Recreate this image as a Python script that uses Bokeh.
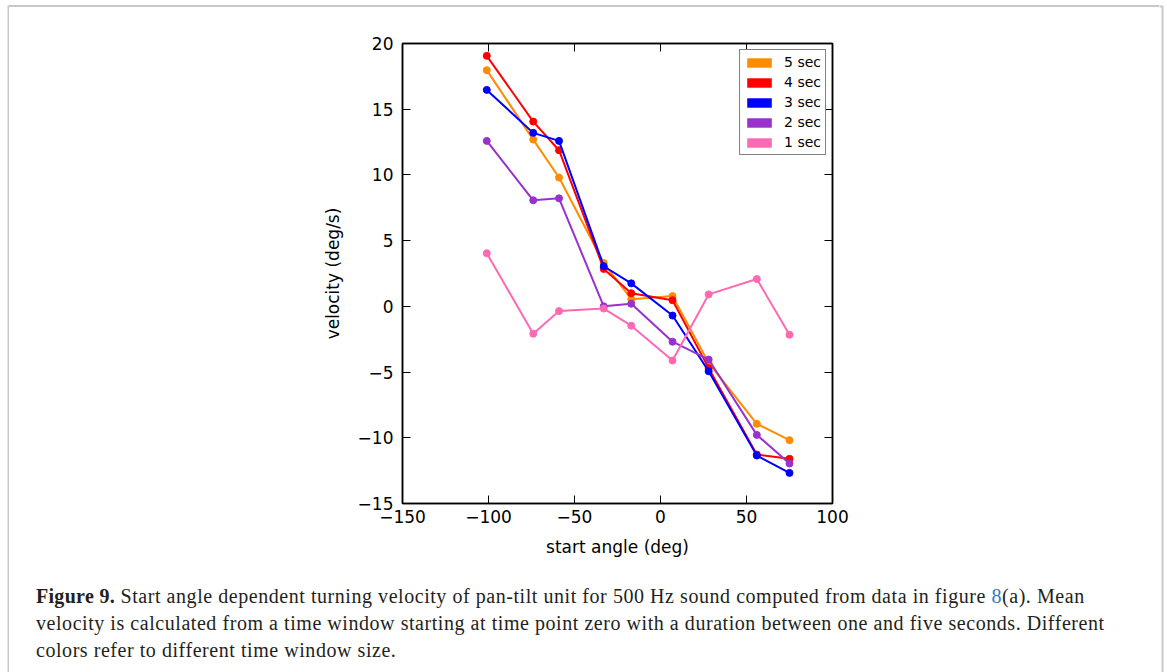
from bokeh.plotting import figure
from bokeh.models import Range1d, FixedTicker, LinearAxis, Legend, LegendItem, Div
from bokeh.layouts import column, row
from bokeh.embed import file_html
from bokeh.resources import INLINE

# ---------------- data ----------------
angles = [-101, -74, -59, -33, -17, 7, 28, 56, 75]
vel_5s = [17.97, 12.69, 9.8, 3.3, 0.55, 0.78, -4.3, -8.94, -10.18]
vel_4s = [19.06, 14.06, 11.88, 2.85, 1.0, 0.47, -4.7, -11.27, -11.6]
vel_3s = [16.47, 13.2, 12.59, 3.05, 1.75, -0.7, -4.94, -11.35, -12.67]
vel_2s = [12.59, 8.07, 8.22, 0.0, 0.2, -2.69, -4.05, -9.78, -11.96]
vel_1s = [4.04, -2.08, -0.36, -0.17, -1.47, -4.12, 0.91, 2.08, -2.16]

series_names = ["5 sec", "4 sec", "3 sec", "2 sec", "1 sec"]
series_vals = [vel_5s, vel_4s, vel_3s, vel_2s, vel_1s]
series_colors = ["#FF8C00", "#FF0000", "#0000FF", "#9932CC", "#FF69B4"]

x_ticks = [-150, -100, -50, 0, 50, 100]
y_ticks = [-15, -10, -5, 0, 5, 10, 15, 20]

caption_title = "Figure 9."
caption_line1 = "Start angle dependent turning velocity of pan-tilt unit for 500 Hz sound computed from data in figure"
caption_ref = "8"
caption_line1_end = "(a). Mean"
caption_line2 = ("velocity is calculated from a time window starting at time point zero with a duration "
                 "between one and five seconds. Different")
caption_line3 = "colors refer to different time window size."

# ---------------- page geometry (px) ----------------
W, H = 1167, 672
BORDER_L, BORDER_R, BORDER_T = 8, 1162, 6
STRIP_L, STRIP_R, STRIP_T = 9, 8, 7
MID_W = W - STRIP_L - STRIP_R                 # 1150
CAP_H = 102
PLOT_H = H - STRIP_T - CAP_H                  # 563
FL, FR, FT, FB = 402, 832, 43, 503            # frame edges on the page
XMIN, XMAX, YMIN, YMAX = -150, 100, -15, 20
BORDER_COLOR = "#c8c8c8"

def blank(w, h, xr, yr):
    f = figure(width=w, height=h, x_range=xr, y_range=yr, output_backend="svg",
               toolbar_location=None, x_axis_type=None, y_axis_type=None,
               min_border=0)
    f.min_border_left = f.min_border_right = f.min_border_top = f.min_border_bottom = 0
    f.grid.visible = False
    f.outline_line_color = None
    f.background_fill_color = "white"
    f.border_fill_color = "white"
    return f

# ---------------- main chart ----------------
p = figure(width=MID_W, height=PLOT_H, x_range=Range1d(XMIN, XMAX), y_range=Range1d(YMIN, YMAX),
           output_backend="svg", toolbar_location=None,
           min_border_left=FL - STRIP_L, min_border_right=(STRIP_L + MID_W) - FR,
           min_border_top=FT - STRIP_T, min_border_bottom=(STRIP_T + PLOT_H) - FB)
p.grid.visible = False
p.outline_line_color = "black"
p.outline_line_width = 1.5
p.background_fill_color = "white"
p.border_fill_color = "white"

TICK_FONT = "DejaVu Sans"
minus = "\u2212"

def fmt(v):
    return (minus + str(abs(v))) if v < 0 else str(v)

for ax, ticks in ((p.xaxis[0], x_ticks), (p.yaxis[0], y_ticks)):
    ax.ticker = FixedTicker(ticks=ticks)
    ax.major_label_overrides = {t: fmt(t) for t in ticks}
    ax.major_tick_in = 8
    ax.major_tick_out = 0
    ax.minor_tick_line_color = None
    ax.axis_line_color = "black"
    ax.axis_line_width = 1.5
    ax.major_tick_line_color = "black"
    ax.major_label_text_font = TICK_FONT
    ax.major_label_text_font_size = "17px"
    ax.major_label_text_color = "black"
    ax.axis_label_text_font = TICK_FONT
    ax.axis_label_text_font_size = "17px"
    ax.axis_label_text_font_style = "normal"
    ax.axis_label_text_color = "black"

p.xaxis[0].axis_label = "start angle (deg)"
p.yaxis[0].axis_label = "velocity (deg/s)"
p.xaxis[0].major_label_standoff = 6
p.yaxis[0].major_label_standoff = 9
p.xaxis[0].axis_label_standoff = 11
p.yaxis[0].axis_label_standoff = 12

for loc, ticks in (("above", x_ticks), ("right", y_ticks)):
    ax = LinearAxis(ticker=FixedTicker(ticks=ticks))
    ax.major_tick_in = 8
    ax.major_tick_out = 0
    ax.minor_tick_line_color = None
    ax.axis_line_color = "black"
    ax.axis_line_width = 1.5
    ax.major_label_overrides = {t: "" for t in ticks}
    ax.major_label_standoff = 0
    p.add_layout(ax, loc)

for name, vals, col in zip(series_names, series_vals, series_colors):
    p.line(angles, vals, line_color=col, line_width=2)
    p.scatter(angles, vals, size=7, fill_color=col, line_color=col)

nan = float("nan")
items = []
for name, col in zip(series_names, series_colors):
    r = p.quad(left=[nan], right=[nan], top=[nan], bottom=[nan],
               fill_color=col, line_color=col, line_alpha=0.6)
    items.append(LegendItem(label=name, renderers=[r]))

legend = Legend(items=items, location="top_right", margin=6, padding=4,
                glyph_width=30, glyph_height=11, label_standoff=10,
                label_height=14, spacing=4,
                label_text_font=TICK_FONT, label_text_font_size="14px",
                label_text_color="black",
                border_line_color="black", border_line_width=1.5,
                background_fill_color="white", background_fill_alpha=1.0)
p.add_layout(legend)

# ---------------- caption (HTML text) ----------------
cap_html = (
    '<div style="padding:13px 0 0 27px; font-family:\'Liberation Serif\', serif; '
    'font-size:20px; letter-spacing:0.55px; line-height:27px; color:#231f20; '
    'white-space:nowrap; margin:0;">'
    f'<b style="letter-spacing:0.3px">{caption_title}</b> {caption_line1} '
    f'<span style="color:#2b7bc0">{caption_ref}</span>{caption_line1_end}<br>'
    f'{caption_line2}<br>{caption_line3}</div>'
)
cap = Div(text=cap_html, width=MID_W, height=CAP_H, margin=0)

# ---------------- grey page border ----------------
top = Div(text="", width=MID_W, height=2, margin=(BORDER_T - 1, 0, 0, 0),
          styles={"background-color": BORDER_COLOR})
left = blank(STRIP_L, H, Range1d(0, STRIP_L), Range1d(H, 0))
left.line([STRIP_L + 1, BORDER_L, BORDER_L], [BORDER_T, BORDER_T, H + 1],
          line_color=BORDER_COLOR, line_width=2, line_join="miter")
right = blank(STRIP_R, H, Range1d(W - STRIP_R, W), Range1d(H, 0))
right.line([W - STRIP_R - 1, BORDER_R, BORDER_R], [BORDER_T, BORDER_T, H + 1],
           line_color=BORDER_COLOR, line_width=2, line_join="miter")

mid = column(top, p, cap, spacing=0)
layout = row(left, mid, right, spacing=0)

open("out.html", "w").write(file_html(layout, INLINE))
